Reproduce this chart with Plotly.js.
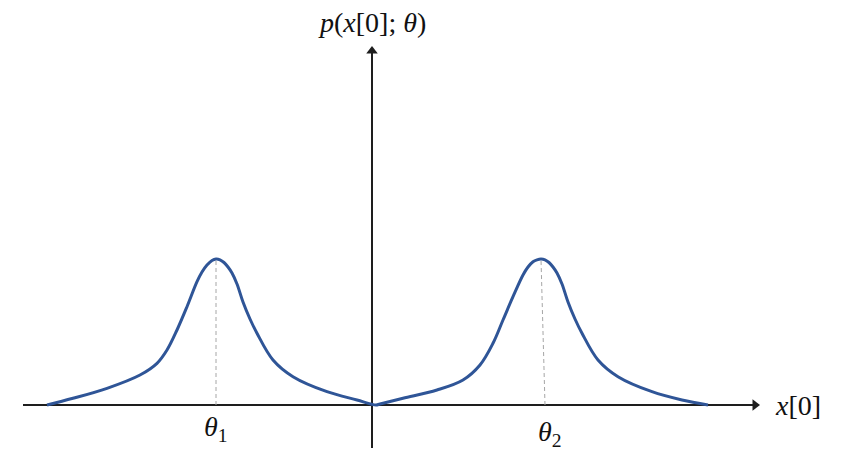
<!DOCTYPE html>
<html>
<head>
<meta charset="utf-8">
<script src="https://cdn.plot.ly/plotly-3.0.1.min.js"></script>
<style>html,body{margin:0;padding:0;background:#fff;}#chart{width:842px;height:463px;}</style>
</head>
<body>
<div id="chart"></div>
<script>
// Curve samples: x[0] vs p(x[0];theta)
const curveX = [-3.25,-2.99,-2.65,-2.32,-2.15,-2.05,-1.95,-1.85,-1.75,-1.70,-1.65,-1.60,-1.56,-1.52,-1.48,-1.44,-1.40,-1.35,-1.29,-1.22,-1.15,-0.99,-0.79,-0.45,-0.15,0.04,
                0.08,0.31,0.65,0.91,1.08,1.21,1.31,1.41,1.51,1.56,1.61,1.65,1.69,1.73,1.77,1.81,1.85,1.90,1.96,2.03,2.10,2.26,2.46,2.80,3.10,3.36];
const curveY = [0,0.067,0.167,0.30,0.417,0.55,0.75,0.983,1.233,1.33,1.40,1.445,1.46,1.452,1.425,1.38,1.32,1.21,1.03,0.86,0.717,0.45,0.283,0.133,0.05,0,
                0.01,0.067,0.15,0.25,0.40,0.617,0.85,1.083,1.30,1.38,1.433,1.452,1.46,1.452,1.425,1.38,1.32,1.21,1.03,0.86,0.717,0.45,0.283,0.133,0.05,0];
// Peak markers (theta1, theta2)
const peak1X = [-1.56,-1.56];
const peak1Y = [0,1.46];
const peak2X = [1.73,1.69];
const peak2Y = [0,1.46];
// Axis extents
const xAxisX = [-3.49, 3.83];
const xAxisY = [0, 0];
const yAxisX = [0, 0];
const yAxisY = [-0.43, 3.54];
// Labels
const theta1Label = '<i>θ</i><sub>1</sub>';
const theta2Label = '<i>θ</i><sub>2</sub>';
const xLabel = '<i>x</i>[0]';
const yLabel = '<i>p</i>(<i>x</i>[0];<i> θ</i>)';

const axisColor = '#1e1e1e';
const font = {family: 'Liberation Serif', size: 28, color: '#111'};

const traces = [
  {x: xAxisX, y: xAxisY, mode: 'lines', line: {color: axisColor, width: 2}, hoverinfo: 'skip'},
  {x: yAxisX, y: yAxisY, mode: 'lines', line: {color: axisColor, width: 2}, hoverinfo: 'skip'},
  {x: [xAxisX[1]], y: [xAxisY[1]], mode: 'markers', marker: {symbol: 'triangle-right', size: 10, color: axisColor}, hoverinfo: 'skip'},
  {x: [yAxisX[1]], y: [yAxisY[1]], mode: 'markers', marker: {symbol: 'triangle-up', size: 10, color: axisColor}, hoverinfo: 'skip'},
  {x: peak1X, y: peak1Y, mode: 'lines', line: {color: '#a6a6a6', width: 1, dash: '4px,3px'}, hoverinfo: 'skip'},
  {x: peak2X, y: peak2Y, mode: 'lines', line: {color: '#a6a6a6', width: 1, dash: '4px,3px'}, hoverinfo: 'skip'},
  {x: curveX, y: curveY, mode: 'lines', line: {color: '#2f5597', width: 3, shape: 'spline', smoothing: 1}, hoverinfo: 'skip'}
];

const layout = {
  width: 842, height: 463,
  margin: {l: 0, r: 0, t: 0, b: 0},
  paper_bgcolor: '#fff', plot_bgcolor: '#fff',
  showlegend: false,
  font: {family: 'Liberation Serif'},
  xaxis: {range: [-3.72, 4.70], visible: false, fixedrange: true},
  yaxis: {range: [-0.58, 4.05], visible: false, fixedrange: true},
  annotations: [
    {x: peak1X[0], y: -0.23, xref: 'x', yref: 'y', text: theta1Label, showarrow: false, font: font},
    {x: peak2X[0] + 0.05, y: -0.28, xref: 'x', yref: 'y', text: theta2Label, showarrow: false, font: font},
    {x: 4.01, y: 0, xref: 'x', yref: 'y', text: xLabel, showarrow: false, xanchor: 'left', font: font},
    {x: 0, y: 3.83, xref: 'x', yref: 'y', text: yLabel, showarrow: false, font: font}
  ]
};

Plotly.newPlot('chart', traces, layout, {displayModeBar: false, staticPlot: true});
</script>
</body>
</html>
